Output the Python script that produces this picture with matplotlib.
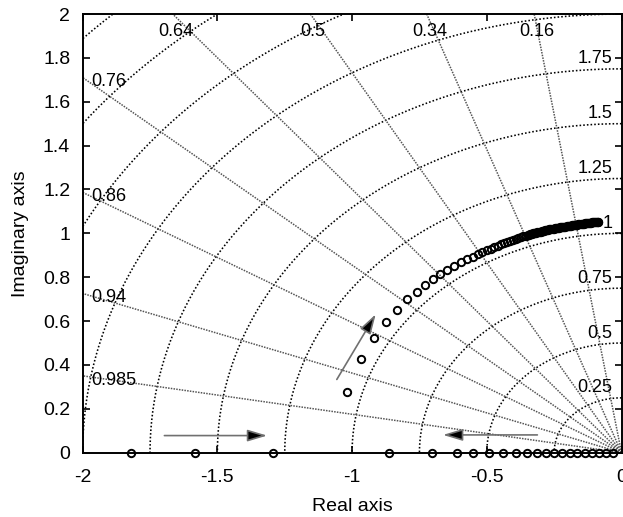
"""Root locus with damping / natural frequency grid"""
import numpy as np
import matplotlib
matplotlib.use('Agg')
import matplotlib.pyplot as plt
from matplotlib.patches import FancyArrowPatch

plt.rcParams['font.family'] = ['Liberation Sans', 'DejaVu Sans']
plt.rcParams['axes.unicode_minus'] = False

# grid values
ZETAS = [0.985, 0.94, 0.86, 0.76, 0.64, 0.5, 0.34, 0.16]
WN_CIRCLES = [0.25, 0.5, 0.75, 1.0, 1.25, 1.5, 1.75, 2.0, 2.25, 2.5, 2.75]
WN_LABELS = ['0.25', '0.5', '0.75', '1', '1.25', '1.5', '1.75']

# locus points
REAL_LEFT_X = [-1.821, -1.583, -1.293]
REAL_RIGHT_X = [-0.863, -0.705, -0.612, -0.550, -0.492, -0.439, -0.393, -0.352,
                -0.313, -0.280, -0.250, -0.221, -0.193, -0.164, -0.137, -0.109,
                -0.083, -0.057, -0.033]

COMPLEX_X = [-1.020, -0.967, -0.919, -0.874, -0.832, -0.795, -0.760, -0.729,
             -0.699, -0.674, -0.647, -0.622, -0.597, -0.575, -0.552, -0.534,
             -0.517, -0.501, -0.486, -0.472, -0.459, -0.447, -0.435, -0.424,
             -0.413, -0.403, -0.393, -0.383, -0.374, -0.365, -0.356, -0.348,
             -0.344, -0.340, -0.336, -0.332, -0.328, -0.324, -0.320, -0.316,
             -0.312, -0.308, -0.304, -0.300, -0.296, -0.292, -0.288, -0.284,
             -0.280, -0.276, -0.272, -0.268, -0.264, -0.260, -0.256, -0.252,
             -0.248, -0.244, -0.240, -0.236, -0.232, -0.228, -0.224, -0.220,
             -0.216, -0.212, -0.208, -0.204, -0.200, -0.196, -0.192, -0.188,
             -0.184, -0.180, -0.176, -0.172, -0.168, -0.164, -0.160, -0.156,
             -0.152, -0.148, -0.144, -0.140, -0.136, -0.132, -0.128, -0.124,
             -0.120, -0.116, -0.112, -0.108, -0.104, -0.101, -0.098, -0.095,
             -0.092, -0.089, -0.086]
COMPLEX_Y = [0.278, 0.427, 0.523, 0.594, 0.650, 0.699, 0.734, 0.764,
             0.792, 0.814, 0.833, 0.852, 0.868, 0.881, 0.893, 0.904,
             0.913, 0.922, 0.930, 0.937, 0.944, 0.950, 0.955, 0.960,
             0.965, 0.970, 0.974, 0.979, 0.983, 0.986, 0.990, 0.993,
             0.994, 0.996, 0.997, 0.998, 1.000, 1.001, 1.002, 1.003,
             1.005, 1.006, 1.007, 1.008, 1.009, 1.011, 1.012, 1.013,
             1.014, 1.015, 1.016, 1.018, 1.019, 1.020, 1.021, 1.022,
             1.023, 1.024, 1.025, 1.026, 1.026, 1.027, 1.028, 1.029,
             1.030, 1.031, 1.031, 1.032, 1.033, 1.034, 1.035, 1.035,
             1.036, 1.037, 1.038, 1.038, 1.039, 1.040, 1.041, 1.041,
             1.042, 1.043, 1.044, 1.044, 1.045, 1.046, 1.046, 1.047,
             1.048, 1.048, 1.049, 1.050, 1.050, 1.051, 1.051, 1.052,
             1.052, 1.053, 1.053]

# direction arrows (tail, head)
ARROWS = [((-1.707, 0.078), (-1.305, 0.078)),
          ((-0.302, 0.081), (-0.673, 0.081)),
          ((-1.062, 0.323), (-0.907, 0.642))]

fig = plt.figure(figsize=(6.23, 5.17), dpi=100)
ax = fig.add_axes([0.1327, 0.1244, 0.8649, 0.8485])

# natural frequency circles
th = np.linspace(np.pi / 2, np.pi, 400)
for r in WN_CIRCLES:
    ax.plot(r * np.cos(th), r * np.sin(th), color='black', lw=1.15,
            ls=(0, (1, 1.3)), zorder=1)

# damping lines
for z in ZETAS:
    s = np.sqrt(1 - z ** 2)
    ax.plot([0, -z * 5], [0, s * 5], color='#555555', lw=1.1,
            ls=(0, (1, 0.8)), zorder=1)
    slope = s / z
    if slope * 2 < 2:
        ax.text(-1.97, slope * 2 - 0.02, f'{z:g}', fontsize=13,
                ha='left', va='center', zorder=3)
    else:
        ax.text(-2 / slope + 0.01, 1.922, f'{z:g}', fontsize=13,
                ha='center', va='center', zorder=3)

for r, lab in zip(WN_CIRCLES, WN_LABELS):
    ax.text(-0.033, r + 0.045, lab, fontsize=13, ha='right', va='center',
            zorder=3)

mk = dict(ls='none', marker='o', ms=5.3, mfc='none', mec='black', mew=1.4,
          zorder=4, clip_on=False)
ax.plot(REAL_LEFT_X, [0] * len(REAL_LEFT_X), **mk)
ax.plot(REAL_RIGHT_X, [0] * len(REAL_RIGHT_X), **mk)
ax.plot(COMPLEX_X, COMPLEX_Y, **mk)

for tail, head in ARROWS:
    ax.add_patch(FancyArrowPatch(tail, head,
                                 arrowstyle='-|>,head_length=1.0,head_width=0.3',
                                 mutation_scale=12, lw=1.2, edgecolor='#707070',
                                 facecolor='black', zorder=3))

ax.set_xlim(-2, 0)
ax.set_ylim(0, 2)
ax.set_xticks([-2, -1.5, -1, -0.5, 0])
ax.set_xticklabels(['-2', '-1.5', '-1', '-0.5', '0'])
yt = [0, 0.2, 0.4, 0.6, 0.8, 1, 1.2, 1.4, 1.6, 1.8, 2]
ax.set_yticks(yt)
ax.set_yticklabels([f'{v:g}' for v in yt])
ax.tick_params(direction='in', length=5, width=1.2, labelsize=14,
               top=True, right=True)
ax.tick_params(axis='x', pad=12)
ax.tick_params(axis='y', pad=9)
for sp in ax.spines.values():
    sp.set_linewidth(1.4)
    sp.set_zorder(5)

ax.set_xlabel('Real axis', fontsize=14)
ax.set_ylabel('Imaginary axis', fontsize=14)
ax.xaxis.set_label_coords(0.5, -0.103)
ax.yaxis.set_label_coords(-0.099, 0.5)

fig.savefig('out.png', dpi=100)
